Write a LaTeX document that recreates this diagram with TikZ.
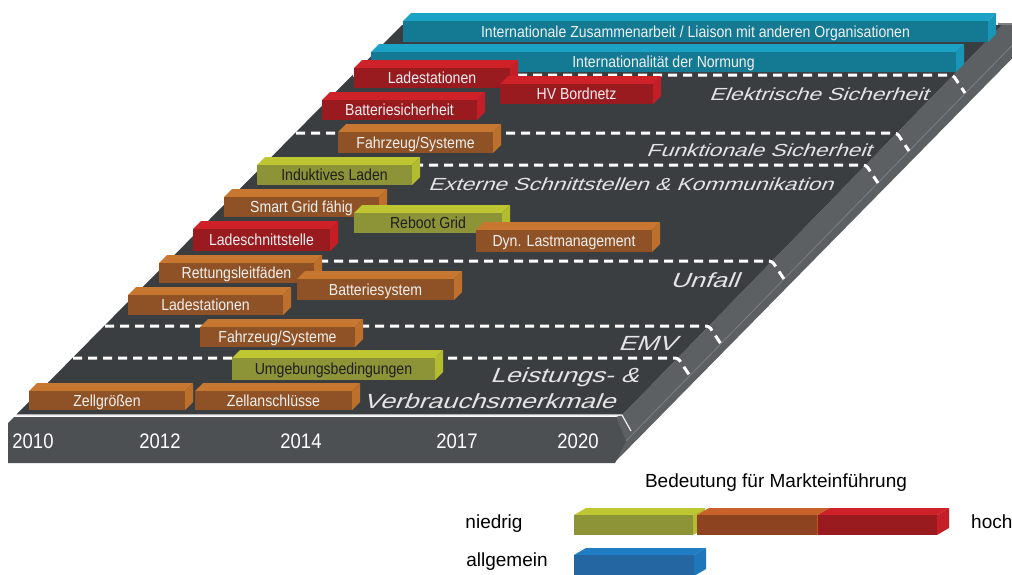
\documentclass[tikz,border=0pt]{standalone}
\usepackage{fontspec}
\setmainfont{Liberation Sans}
\newfontfamily\barfont[FakeStretch=0.88]{Liberation Sans}
\newfontfamily\lanefont[FakeStretch=1.3,FakeSlant=0.4]{Liberation Sans}
\definecolor{bluetop}{HTML}{1BA2C5}\definecolor{bluefront}{HTML}{147A94}\definecolor{blueside}{HTML}{1797B8}
\definecolor{redtop}{HTML}{CE2128}\definecolor{redfront}{HTML}{991B20}\definecolor{redside}{HTML}{C41F26}
\definecolor{oratop}{HTML}{C7772F}\definecolor{orafront}{HTML}{8F5226}\definecolor{oraside}{HTML}{BD6F2C}
\definecolor{olitop}{HTML}{BEC631}\definecolor{olifront}{HTML}{8D9337}\definecolor{oliside}{HTML}{B3BB2F}
\definecolor{lbluetop}{HTML}{1F7DC4}\definecolor{lbluefront}{HTML}{2366A2}\definecolor{lblueside}{HTML}{1E77BB}
\definecolor{loratop}{HTML}{C8612A}\definecolor{lorafront}{HTML}{8E4320}\definecolor{loraside}{HTML}{BE5A27}
\definecolor{slabtop}{HTML}{3B3E41}\definecolor{slabfront}{HTML}{4D5053}\definecolor{slabside}{HTML}{5D6062}
\definecolor{labelwhite}{HTML}{F0F0F0}\definecolor{labeldark}{HTML}{1E1E1E}\definecolor{lanegray}{HTML}{E4E4E4}
\tikzset{
  barlabel/.style={inner sep=0pt, anchor=center, font=\barfont\fontsize{16}{18}\selectfont, text height=11.5pt, text depth=0pt},
  lane/.style={inner sep=0pt, anchor=base west, text=lanegray},
  lanesmall/.style={lane, font=\lanefont\fontsize{17.5}{20}\selectfont},
  lanebig/.style={lane, font=\lanefont\fontsize{20.5}{23}\selectfont},
  year/.style={inner sep=0pt, anchor=center, text=white, font=\barfont\fontsize{21}{24}\selectfont, text height=15pt, text depth=0pt},
  legendtext/.style={inner sep=0pt, text=black, font=\fontsize{19}{22}\selectfont, text height=13.6pt, text depth=0pt},
  lanedash/.style={white, line width=3pt, dash pattern=on 9pt off 6pt, rounded corners=3pt}
}
% name, x1, x2, ytop, ybottom, colour, text colour, text
\newcommand{\cubebar}[8]{%
  \fill[#6top] (#2,#4) -- (#2+8,#4-8) -- (#3+8,#4-8) -- (#3,#4) -- cycle;
  \fill[#6side] (#3,#4) -- (#3+8,#4-8) -- (#3+8,#5-8) -- (#3,#5) -- cycle;
  \node[barlabel, fill=#6front, text=#7, minimum width={(#3-#2)*1pt}, minimum height={(#5-#4)*1pt}] (#1) at ({(#2+#3)/2},{(#4+#5)/2}) {#8};
}
\newcommand{\legendbar}[6]{%
  \fill[#6top] (#2,#4) -- (#2+12,#4-7) -- (#3+12,#4-7) -- (#3,#4) -- cycle;
  \fill[#6side] (#3,#4) -- (#3+12,#4-7) -- (#3+12,#5-7) -- (#3,#5) -- cycle;
  \node[inner sep=0pt, fill=#6front, minimum width={(#3-#2)*1pt}, minimum height={(#5-#4)*1pt}] (#1) at ({(#2+#3)/2},{(#4+#5)/2}) {};
}
\begin{document}
\begin{tikzpicture}[x=1pt, y=-1pt]
\path[use as bounding box] (0,0) rectangle (1012,574);
% slab
\fill[slabside] (616,417) -- (622,415) -- (1002,25) -- (1045,25) -- (614,463) -- cycle;
\draw[color=slabside!80!white, line width=0.8pt] (626,441) -- (1031,26);
\fill[slabtop] (16,415) -- (622,415) -- (1002,25) -- (402,25) -- cycle;
\fill[slabfront] (8,423) -- (14,417) -- (616,417) -- (626,441) -- (615,463) -- (8,463) -- cycle;
\draw[labelwhite, line width=1.2pt] (16,415) -- (622,415) -- (631,431);
\draw[gray, line width=1.5pt] (998,24) -- (1012,24);
% lane separators
\draw[lanedash] (353,75) -- (953,75) -- (965,93);
\draw[lanedash] (296,133) -- (897,133) -- (909,151);
\draw[lanedash] (264,165) -- (866,165) -- (878,183);
\draw[lanedash] (169,261) -- (772,261) -- (784,279);
\draw[lanedash] (105,326) -- (709,326) -- (721,344);
\draw[lanedash] (73,358) -- (678,358) -- (690,376);
% lane labels
\node[lanesmall] (lElek) at (709,100) {Elektrische Sicherheit};
\node[lanesmall] (lFunk) at (646,156) {Funktionale Sicherheit};
\node[lanesmall] (lExt) at (428,190) {Externe Schnittstellen \& Kommunikation};
\node[lanebig] (lUnf) at (670,287) {Unfall};
\node[lanebig] (lEMV) at (618,350) {EMV};
\node[lanebig] (lLeist) at (490,382) {Leistungs- \&};
\node[lanebig] (lVerb) at (363,408) {Verbrauchsmerkmale};
% bars
\cubebar{b1}{403}{988}{21}{42}{blue}{labelwhite}{Internationale Zusammenarbeit / Liaison mit anderen Organisationen}
\cubebar{b2}{371}{956}{52}{72}{blue}{labelwhite}{Internationalität der Normung}
\cubebar{b3}{354}{510}{68}{88}{red}{labelwhite}{Ladestationen}
\cubebar{b4}{500}{653}{84}{104}{red}{labelwhite}{HV Bordnetz}
\cubebar{b5}{322}{477}{100}{120}{red}{labelwhite}{Batteriesicherheit}
\cubebar{b6}{338}{493}{132}{153}{ora}{labelwhite}{Fahrzeug/Systeme}
\cubebar{b7}{257}{412}{165}{185}{oli}{labeldark}{Induktives Laden}
\cubebar{b8}{224}{379}{197}{217}{ora}{labelwhite}{Smart Grid fähig}
\cubebar{b9}{354}{502}{213}{233}{oli}{labeldark}{Reboot Grid}
\cubebar{b10}{193}{330}{229}{251}{red}{labelwhite}{Ladeschnittstelle}
\cubebar{b11}{476}{652}{230}{252}{ora}{labelwhite}{Dyn. Lastmanagement}
\cubebar{b12}{159}{314}{263}{283}{ora}{labelwhite}{Rettungsleitfäden}
\cubebar{b13}{297}{454}{279}{300}{ora}{labelwhite}{Batteriesystem}
\cubebar{b14}{128}{283}{295}{315}{ora}{labelwhite}{Ladestationen}
\cubebar{b15}{200}{355}{327}{347}{ora}{labelwhite}{Fahrzeug/Systeme}
\cubebar{b16}{232}{435}{358}{380}{oli}{labeldark}{Umgebungsbedingungen}
\cubebar{b17}{29}{185}{391}{410}{ora}{labelwhite}{Zellgrößen}
\cubebar{b18}{195}{352}{391}{410}{ora}{labelwhite}{Zellanschlüsse}
% years
\node[year] (y2010) at (33,441) {2010};
\node[year] (y2012) at (160,441) {2012};
\node[year] (y2014) at (301,441) {2014};
\node[year] (y2017) at (457,441) {2017};
\node[year] (y2020) at (578,441) {2020};
% legend
\node[legendtext, anchor=center] (legTitle) at (776,481) {Bedeutung für Markteinführung};
\node[legendtext, anchor=center] (legLow) at (494,522) {niedrig};
\node[legendtext, anchor=west] (legHigh) at (971,522) {hoch};
\node[legendtext, anchor=center] (legGen) at (507,560) {allgemein};
\legendbar{g1}{574}{693}{515}{535}{oli}
\legendbar{g2}{697}{817}{515}{535}{lora}
\legendbar{g3}{818}{937}{515}{535}{red}
\legendbar{g4}{574}{694}{555}{576}{lblue}
\end{tikzpicture}
\end{document}
